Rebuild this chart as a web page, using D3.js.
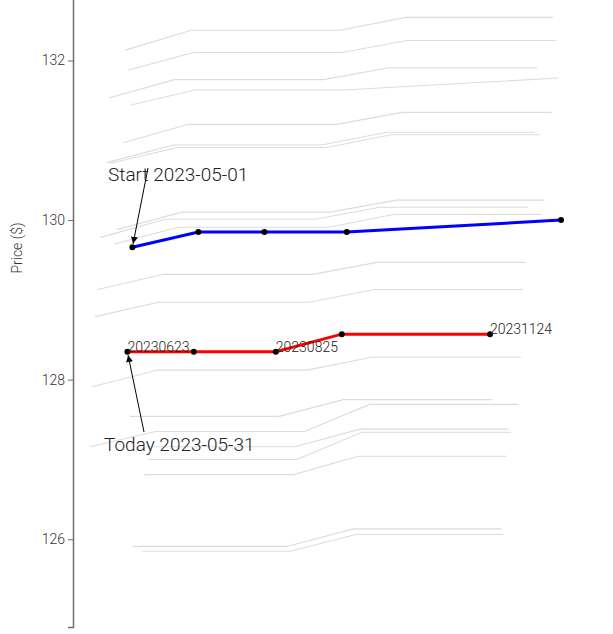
<!DOCTYPE html>
<html>
<head>
<meta charset="utf-8">
<script src="https://cdn.jsdelivr.net/npm/d3@7"></script>
<style>
  html, body { margin: 0; padding: 0; background: #fff; }
  svg { display: block; font-family: Roboto, "Noto Sans", sans-serif; }
</style>
</head>
<body>
<div id="chart"></div>
<script>
// ---- data ----
// x: horizon units, y: price ($)
const yTicks = [126, 128, 130, 132];

const greyX = [
  [26.2, 59, 133.5, 166.4, 240.2],
  [27.7, 60.2, 134.7, 166.9, 241.4],
  [18, 50.7, 125.2, 158, 232],
  [28.5, 61, 135.2, 242.7],
  [25.2, 57.7, 131.9, 164.4, 239.3],
  [16.9, 50.2, 124.4, 156.9, 231],
  [18.5, 51.9, 126.9, 159, 233.5],
  [21.9, 54.4, 128.5, 161.9, 235.7],
  [13.5, 46, 121, 153.5, 227.4],
  [20.7, 52.7, 127.7, 160.2, 234.4],
  [12.4, 45.2, 119.9, 151.9, 226.4],
  [11, 42.7, 118, 150.7, 224.9],
  [9.7, 42.4, 116.9, 149.4, 224],
  [28.5, 103, 135.2, 209.7],
  [8.5, 41.3, 115.8, 148.3, 222.7],
  [36.5, 111, 143.5, 217.7],
  [37.7, 111.9, 144.4, 219],
  [35.7, 110.2, 142.7, 216.9],
  [29.9, 106.9, 140.2, 214.4],
  [34.7, 108.5, 141.4, 215.5]
];
const greyY = [
  [132.13, 132.38, 132.38, 132.54, 132.54],
  [131.88, 132.10, 132.10, 132.25, 132.25],
  [131.53, 131.76, 131.76, 131.91, 131.91],
  [131.44, 131.63, 131.63, 131.78],
  [130.97, 131.20, 131.20, 131.35, 131.35],
  [130.72, 130.94, 130.94, 131.10, 131.10],
  [130.71, 130.91, 130.91, 131.07, 131.07],
  [129.88, 130.10, 130.10, 130.25, 130.25],
  [129.78, 130.01, 130.01, 130.16, 130.16],
  [129.70, 129.91, 129.91, 130.07, 130.07],
  [129.13, 129.32, 129.32, 129.47, 129.47],
  [128.79, 128.97, 128.97, 129.13, 129.13],
  [127.91, 128.12, 128.12, 128.28, 128.28],
  [127.54, 127.54, 127.75, 127.75],
  [127.16, 127.35, 127.35, 127.69, 127.69],
  [127.16, 127.16, 127.38, 127.38],
  [127.00, 127.00, 127.34, 127.34],
  [126.81, 126.81, 127.04, 127.04],
  [125.91, 125.91, 126.13, 126.13],
  [125.85, 125.85, 126.06, 126.06]
];

const startX = [29.7, 62.7, 95.7, 136.9, 244];
const startY = [129.66, 129.85, 129.85, 129.85, 130.00];
const startLabel = "Start 2023-05-01";

const todayX = [27.2, 60.4, 101.4, 134.4, 208.5];
const todayY = [128.35, 128.35, 128.35, 128.57, 128.57];
const todayLabel = "Today 2023-05-31";
const todayPointLabels = ["20230623", "", "20230825", "", "20231124"];

const yTitle = "Price ($)";

// ---- chart ----
const W = 613, H = 634;
const x = d3.scaleLinear().domain([0, 270]).range([73, 613]);
const y = d3.scaleLinear().domain([124.9, 134.4]).range([627, -131]);

const svg = d3.select("#chart").append("svg")
  .attr("width", W).attr("height", H);

svg.append("defs").append("marker")
  .attr("id", "arrow")
  .attr("viewBox", "0 0 10 10")
  .attr("refX", 10).attr("refY", 5)
  .attr("markerWidth", 7).attr("markerHeight", 7)
  .attr("markerUnits", "userSpaceOnUse")
  .attr("orient", "auto")
  .append("path").attr("d", "M0,0 L10,5 L0,10 Z").attr("fill", "#000");

const line = d3.line().x(d => x(d[0])).y(d => y(d[1]));

// grey scenario lines
const grey = greyX.map((xs, i) => xs.map((v, j) => [v, greyY[i][j]]));
svg.append("g").selectAll("path").data(grey).join("path")
  .attr("d", line)
  .attr("fill", "none")
  .attr("stroke", "#dcdcdc")
  .attr("stroke-width", 1.1);

// axis
const axis = svg.append("g")
  .attr("transform", `translate(${x(0)},0)`)
  .call(d3.axisLeft(y).tickValues(yTicks).tickSize(5).tickPadding(3).tickFormat(d3.format("d")));
axis.select(".domain").attr("stroke", "#6f6f6f").attr("stroke-width", 1.5);
axis.selectAll(".tick line").attr("stroke", "#6f6f6f");
axis.selectAll(".tick text")
  .attr("fill", "#333")
  .style("font-size", "14px")
  .style("font-weight", 300)
  .style("font-family", "Roboto");

svg.append("text")
  .attr("transform", `translate(22,${(y.range()[0] + y.range()[1]) / 2}) rotate(-90)`)
  .attr("text-anchor", "middle")
  .attr("fill", "#333")
  .style("font-size", "14px")
  .style("font-weight", 300)
  .text(yTitle);

// main series
const startPts = startX.map((v, i) => [v, startY[i]]);
const todayPts = todayX.map((v, i) => [v, todayY[i]]);

svg.append("path").datum(startPts).attr("d", line)
  .attr("fill", "none").attr("stroke", "#0000ff").attr("stroke-width", 3);
svg.append("path").datum(todayPts).attr("d", line)
  .attr("fill", "none").attr("stroke", "#ff0000").attr("stroke-width", 3);

svg.append("g").selectAll("circle").data(startPts.concat(todayPts)).join("circle")
  .attr("cx", d => x(d[0])).attr("cy", d => y(d[1])).attr("r", 3)
  .attr("fill", "#000");

// point labels on today series
svg.append("g").selectAll("text").data(todayPts.map((d, i) => [d, todayPointLabels[i]]).filter(d => d[1]))
  .join("text")
  .attr("x", d => x(d[0][0]))
  .attr("y", d => y(d[0][1]))
  .attr("fill", "#222")
  .style("font-size", "14px")
  .style("font-weight", 300)
  .text(d => d[1]);

// annotations
function annotate(pt, label, tx, ty, ax, ay) {
  const px = x(pt[0]), py = y(pt[1]);
  const dx = px - ax, dy = py - ay, len = Math.hypot(dx, dy);
  const ex = px - dx / len * 3.5, ey = py - dy / len * 3.5;
  svg.append("line")
    .attr("x1", ax).attr("y1", ay).attr("x2", ex).attr("y2", ey)
    .attr("stroke", "#000").attr("stroke-width", 1)
    .attr("marker-end", "url(#arrow)");
  svg.append("text")
    .attr("x", tx).attr("y", ty)
    .attr("fill", "#222")
    .style("font-size", "19px")
    .style("font-weight", 300)
    .text(label);
}
annotate(startPts[0], startLabel, 108, 181, 148, 168);
annotate(todayPts[0], todayLabel, 104, 451, 144, 432);
</script>
</body>
</html>
